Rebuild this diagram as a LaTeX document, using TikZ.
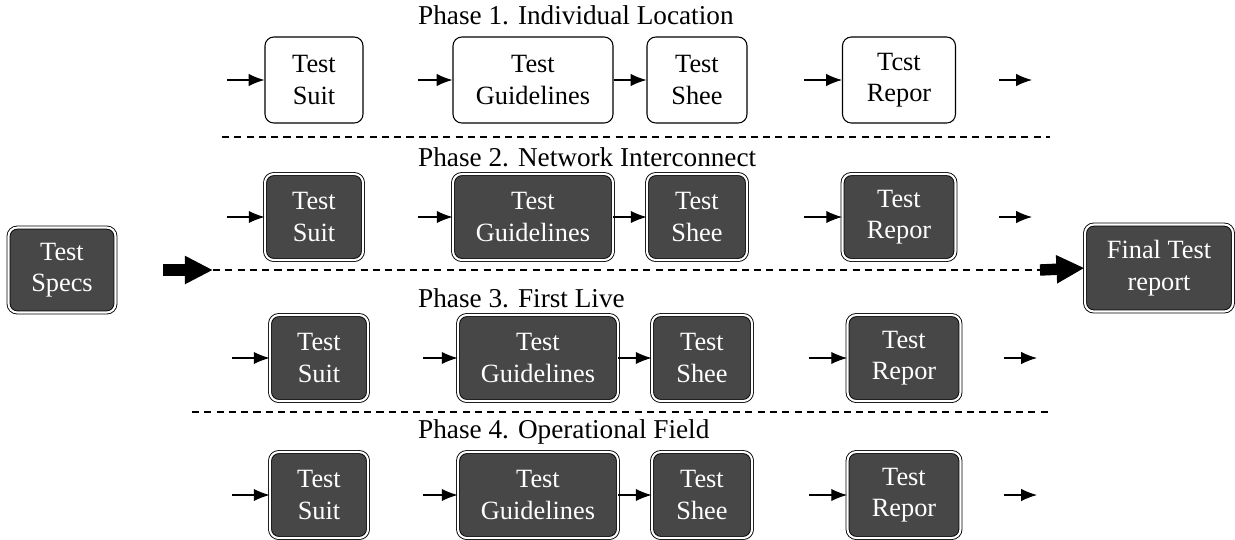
\documentclass[tikz,border=0pt]{standalone}
\usepackage{fontspec}
\setmainfont{Liberation Serif}
\usetikzlibrary{arrows.meta}
\tikzset{
  box/.style={draw, rounded corners=5pt, align=center, inner sep=1pt,
    font=\fontsize{15}{18}\selectfont, minimum height=1.72cm, line width=0.6pt},
  litebox/.style={box},
  darkbox/.style={box, fill=black!72, text=white, double=white,
    double distance=1.2pt, line width=0.5pt},
  flow/.style={line width=0.6pt, -{Latex[length=9pt,width=7pt]}},
  sep/.style={dash pattern=on 4pt off 3pt, line width=0.6pt},
  bigarrow/.style={line width=6.5pt, -{Triangle[length=16pt,width=15pt]}},
  phase/.style={anchor=west, font=\fontsize{15.5}{18}\selectfont}
}
\begin{document}
\begin{tikzpicture}[x=0.02cm, y=-0.02cm]
\useasboundingbox (0,0) rectangle (1235,539);

\node[phase] (ph1) at (412,15) {Phase 1. Individual Location};
\node[phase] (ph2) at (412,157) {Phase 2. Network Interconnect};
\node[phase] (ph3) at (412,298) {Phase 3. First Live};
\node[phase] (ph4) at (412,432) {Phase 4. Operational Field};

\foreach \r/\y/\dx/\st/\w in {1/80/0/litebox/Tcst, 2/217/0/darkbox/Test,
                               3/358/5/darkbox/Test, 4/495/5/darkbox/Test} {
  \node[\st, minimum width=1.96cm] (suit\r) at (314+\dx,\y) {Test\\Suit};
  \node[\st, minimum width=3.2cm] (guide\r) at (533+\dx,\y) {Test\\Guidelines};
  \node[\st, minimum width=2.0cm] (sheet\r) at (697+\dx,\y) {Test\\Shee};
  \node[\st, minimum width=2.26cm] (report\r) at (899+\dx,\y) {\w\\Repor};
  \coordinate (in\r) at (227+\dx,\y);
  \coordinate (gin\r) at (418+\dx,\y);
  \coordinate (rin\r) at (804+\dx,\y);
  \coordinate (os\r) at (999+\dx,\y);
  \coordinate (oe\r) at (1032+\dx,\y);
  \draw[flow] (in\r) -- (suit\r);
  \draw[flow] (gin\r) -- (guide\r);
  \draw[flow] (guide\r) -- (sheet\r);
  \draw[flow] (rin\r) -- (report\r);
  \draw[flow] (os\r) -- (oe\r);
}

\coordinate (sepA) at (222,137);
\coordinate (sepB) at (1050,137);
\coordinate (sepC) at (192,412);
\coordinate (sepD) at (1050,412);
\draw[sep] (sepA) -- (sepB);
\draw[sep] (sepC) -- (sepD);

\node[darkbox, minimum width=2.14cm, minimum height=1.7cm] (spec) at (62,270) {Test\\Specs};
\node[darkbox, minimum width=2.96cm, minimum height=1.74cm] (final) at (1159,268) {Final Test\\report};

\coordinate (bigL) at (163,270);
\coordinate (dashL) at (213,270);
\coordinate (dashR) at (1040,270);
\draw[bigarrow] (bigL) -- (dashL);
\draw[sep] (dashL) -- (dashR);
\draw[bigarrow] (dashR) -- (final.west);
\end{tikzpicture}
\end{document}
